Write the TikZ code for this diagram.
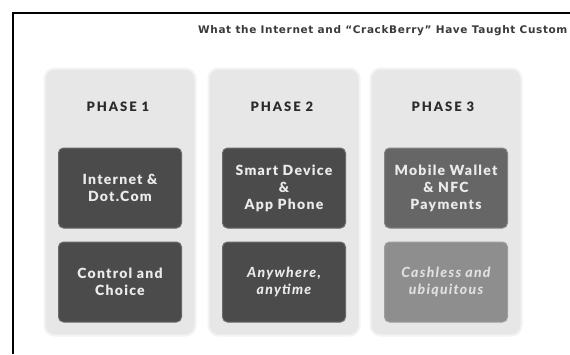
\documentclass[tikz,border=0pt]{standalone}
\usepackage{fontspec}
\setmainfont{Lato}
\newfontfamily\headfont{Lato Black}[LetterSpace=15]
\newfontfamily\boxfont{Lato Black}[LetterSpace=9]
\newfontfamily\titlefont{DejaVu Sans}[LetterSpace=6]
\definecolor{panelgray}{HTML}{E7E7E7}
\definecolor{paneledge}{HTML}{F3F3F3}
\definecolor{boxdark}{HTML}{4B4B4B}
\definecolor{boxedge}{HTML}{6A6A6A}
\definecolor{boxmid}{HTML}{666666}
\definecolor{boxlight}{HTML}{8E8E8E}
\definecolor{headtext}{HTML}{2A2A2A}
\definecolor{titletext}{HTML}{3A3A3A}
\tikzset{
  panel/.style={fill=panelgray, draw=paneledge, line width=2pt, rounded corners=10pt,
    minimum width=151pt, minimum height=267pt, inner sep=0pt},
  phasehead/.style={font=\headfont\fontsize{13}{15}\selectfont, text=headtext},
  stagebox/.style={fill=boxdark, draw=boxedge, line width=1pt, rounded corners=5pt,
    minimum width=123pt, minimum height=80pt, inner sep=2pt, align=center,
    text=white!92!black, font=\boxfont\fontsize{14}{17}\selectfont},
  stageboxmid/.style={stagebox, fill=boxmid, draw=boxmid!80!white},
  stageboxlight/.style={stagebox, fill=boxlight, draw=boxlight!85!white, text=white!88!black},
  slanted/.style={font=\boxfont\itshape\fontsize{14}{17}\selectfont},
}
\begin{document}
\begin{tikzpicture}[x=1pt, y=-1pt]
  \useasboundingbox (0,0) rectangle (570,354);
  \clip (0,0) rectangle (570,354);
  \fill[white] (0,0) rectangle (570,354);
  % page frame running off the right and bottom edges
  \draw[line width=2.2pt, black] (13,354) -- (13,13) -- (570,13);
  % heading, running up to the page edge
  \node[anchor=base west, inner sep=0pt, text=titletext,
        font=\titlefont\bfseries\fontsize{10.5}{12}\selectfont] (title) at (198,33)
    {What the Internet and “CrackBerry” Have Taught Custom};
  % three phase panels
  \node[panel] (p1) at (120,202) {};
  \node[panel] (p2) at (284,202) {};
  \node[panel] (p3) at (446,202) {};
  \node[phasehead] (h1) at (118,107) {PHASE 1};
  \node[phasehead] (h2) at (282,107) {PHASE 2};
  \node[phasehead] (h3) at (443,107) {PHASE 3};
  % stage boxes
  \node[stagebox] (a1) at (120,188) {Internet \&\\Dot.Com};
  \node[stagebox] (b1) at (120,282) {Control and\\Choice};
  \node[stagebox] (a2) at (284,188) {Smart Device\\\&\\App Phone};
  \node[stagebox, slanted] (b2) at (284,282) {Anywhere,\\anytime};
  \node[stageboxmid] (a3) at (446,188) {Mobile Wallet\\\& NFC\\Payments};
  \node[stageboxlight, slanted] (b3) at (446,282) {Cashless and\\ubiquitous};
\end{tikzpicture}
\end{document}
